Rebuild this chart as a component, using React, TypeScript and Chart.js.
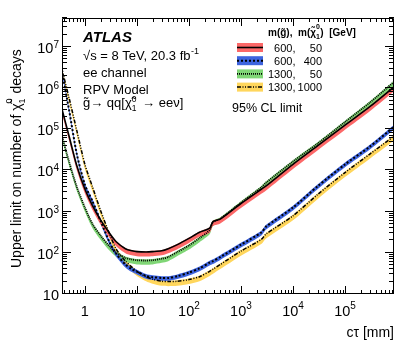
import React, { useEffect, useRef } from "react";
import { Chart, registerables } from "chart.js";

Chart.register(...registerables);

// c-tau values [mm]
const ctau = [0.36, 0.5, 0.7, 1, 1.4, 2, 3, 4, 6, 8, 10, 15, 20, 30, 40, 60, 100, 160, 250, 290, 400, 1000, 2500, 3000, 1e4, 3e4, 1e5, 3e5, 8.7e5];

// Upper limits on number of neutralino decays
const limitG600N50 = [3.2e5, 6.6e4, 1.3e4, 3550, 1410, 630, 295, 186, 126, 112, 107, 105, 107, 112, 126, 158, 224, 316, 398, 575, 660, 1580, 3550, 4170, 1.41e4, 4.0e4, 1.26e5, 3.55e5, 1.07e6];
const limitG600N400 = [2.75e6, 2.8e5, 2.5e4, 4500, 1800, 600, 178, 95, 52, 40, 35, 27.5, 25.7, 24.5, 24.5, 27, 33, 42, 58, 63, 79, 158, 316, 427, 1260, 4170, 1.41e4, 3.8e4, 1.15e5];
const limitG1300N50 = [7.2e4, 1.6e4, 4000, 1260, 500, 263, 141, 100, 76, 69, 66, 65, 66, 72, 79, 105, 151, 229, 355, 562, 676, 1660, 3980, 5010, 1.66e4, 4.57e4, 1.51e5, 4.47e5, 1.41e6];
const limitG1300N1000 = [3.0e6, 5.6e5, 9.3e4, 1.41e4, 4000, 1070, 282, 123, 63, 45, 35.5, 26.3, 22.9, 20.4, 20, 20.4, 22.4, 26.3, 35.5, 40, 52, 110, 214, 282, 794, 2630, 8910, 2.5e4, 6.8e4];

const yTickExponents = [1, 2, 3, 4, 5, 6, 7];
const xTickExponents = [0, 1, 2, 3, 4, 5];
const legendGluino = ["600,", "600,", "1300,", "1300,"];
const legendNeutralino = ["50", "400", "50", "1000"];

const X_MIN = 0.363;
const X_MAX = 8.75e5;
const Y_MIN = 10;
const Y_MAX = 5.06e7;

const FONT = '"Liberation Sans", Arial, Helvetica, sans-serif';

const seriesStyles = [
  { data: limitG600N50, band: "rgb(252,104,104)", up: 0.02, down: 0.11, dash: [] as number[], lw: 1.6 },
  { data: limitG600N400, band: "rgb(62,100,222)", up: 0.045, down: 0.07, dash: [2, 2], lw: 2 },
  { data: limitG1300N50, band: "rgb(128,214,118)", up: 0.03, down: 0.1, dash: [1, 1], lw: 1.8 },
  { data: limitG1300N1000, band: "rgb(255,214,92)", up: 0.025, down: 0.11, dash: [4, 1.5, 1, 1.5, 1, 1.5], lw: 1.5 },
];

function points(values: number[], factor: number) {
  return ctau.map((x, i) => ({ x, y: values[i] * factor }));
}

function drawPow(ctx: CanvasRenderingContext2D, exp: string, x: number, y: number, align: "right" | "center", baseSize: number, expSize: number, expRaise: number) {
  ctx.font = `${baseSize}px ${FONT}`;
  const wb = ctx.measureText("10").width;
  ctx.font = `${expSize}px ${FONT}`;
  const we = exp ? ctx.measureText(exp).width : 0;
  const total = wb + we;
  const start = align === "right" ? x - total : x - total / 2;
  ctx.textAlign = "left";
  ctx.font = `${baseSize}px ${FONT}`;
  ctx.fillText("10", start, y);
  if (exp) {
    ctx.font = `${expSize}px ${FONT}`;
    ctx.fillText(exp, start + wb, y - expRaise);
  }
}

const decorPlugin = {
  id: "atlasDecor",
  afterDatasetsDraw(chart: any) {
    const ctx: CanvasRenderingContext2D = chart.ctx;
    const { left, right, top, bottom } = chart.chartArea;
    const xs = chart.scales.x;
    const ys = chart.scales.y;
    ctx.save();
    ctx.strokeStyle = "#000";
    ctx.fillStyle = "#000";
    ctx.lineWidth = 1;
    ctx.setLineDash([]);
    ctx.beginPath();
    ctx.rect(Math.round(left) + 0.5, Math.round(top) + 0.5, Math.round(right - left) - 1, Math.round(bottom - top) - 1);
    ctx.stroke();

    ctx.beginPath();
    for (let e = 1; e <= 7; e++) {
      for (let m = 1; m <= 9; m++) {
        const v = m * Math.pow(10, e);
        if (v > ys.max) break;
        const py = Math.round(ys.getPixelForValue(v)) - 0.5;
        const len = m === 1 ? 9 : 5;
        ctx.moveTo(left, py);
        ctx.lineTo(left + len, py);
        ctx.moveTo(right, py);
        ctx.lineTo(right - len, py);
      }
    }
    for (let e = -1; e <= 5; e++) {
      for (let m = 1; m <= 9; m++) {
        const v = m * Math.pow(10, e);
        if (v < xs.min || v > xs.max) continue;
        const px = Math.round(xs.getPixelForValue(v)) + 0.5;
        const len = m === 1 ? 8 : 4;
        ctx.moveTo(px, bottom);
        ctx.lineTo(px, bottom - len);
        ctx.moveTo(px, top);
        ctx.lineTo(px, top + len);
      }
    }
    ctx.stroke();

    // y tick labels
    ctx.textBaseline = "alphabetic";
    yTickExponents.forEach((e) => {
      const py = ys.getPixelForValue(Math.pow(10, e));
      drawPow(ctx, e === 1 ? "" : String(e), 59, py + 6, "right", 14.5, 10, 5);
    });
    // x tick labels
    xTickExponents.forEach((e) => {
      const px = xs.getPixelForValue(Math.pow(10, e));
      if (e === 0) {
        ctx.font = `14.5px ${FONT}`;
        ctx.textAlign = "center";
        ctx.fillText("1", px, 316);
      } else {
        drawPow(ctx, e === 1 ? "" : String(e), px, 316, "center", 14.5, 10, 7);
      }
    });

    // x title
    ctx.font = `14px ${FONT}`;
    ctx.textAlign = "right";
    ctx.fillText("c\u03c4 [mm]", right, 337);

    // y title
    ctx.save();
    ctx.translate(21, 268);
    ctx.rotate(-Math.PI / 2);
    ctx.textAlign = "left";
    ctx.font = `14px ${FONT}`;
    let tx = 0;
    const t1 = "Upper limit on number of ";
    ctx.fillText(t1, tx, 0);
    tx += ctx.measureText(t1).width;
    ctx.fillText("\u03c7\u0303", tx, 0);
    tx += ctx.measureText("\u03c7").width;
    ctx.font = `9px ${FONT}`;
    ctx.fillText("1", tx, 3.5);
    ctx.fillText("0", tx, -9);
    tx += ctx.measureText("0").width + 1;
    ctx.font = `14px ${FONT}`;
    ctx.fillText(" decays", tx, 0);
    ctx.restore();

    // annotation texts
    ctx.textAlign = "left";
    ctx.font = `italic bold 15px ${FONT}`;
    ctx.fillText("ATLAS", 83, 42);
    ctx.font = `13px ${FONT}`;
    const s1 = "\u221as = 8 TeV, 20.3 fb";
    ctx.fillText(s1, 83, 60);
    const ws1 = ctx.measureText(s1).width;
    ctx.font = `9px ${FONT}`;
    ctx.fillText("-1", 83 + ws1 + 0.5, 54);
    ctx.font = `13px ${FONT}`;
    ctx.fillText("ee channel", 83, 77);
    ctx.fillText("RPV Model", 83, 94);
    let gx = 83;
    const p1 = "g\u0303\u2192 qq[";
    ctx.fillText(p1, gx, 107);
    gx += ctx.measureText(p1).width;
    ctx.fillText("\u03c7\u0303", gx, 107);
    gx += ctx.measureText("\u03c7").width;
    ctx.font = `8.5px ${FONT}`;
    ctx.fillText("1", gx, 110.5);
    ctx.fillText("0", gx, 101.5);
    gx += ctx.measureText("0").width + 2;
    ctx.font = `13px ${FONT}`;
    ctx.fillText(" \u2192 ee\u03bd]", gx, 107);

    ctx.font = `12.5px ${FONT}`;
    ctx.fillText("95% CL limit", 232, 112);

    // legend header
    ctx.font = `bold 10px ${FONT}`;
    let hx = 268;
    const h1 = "m(g\u0303),  m(\u03c7\u0303";
    ctx.fillText(h1, hx, 36);
    hx += ctx.measureText(h1).width;
    ctx.font = `bold 7px ${FONT}`;
    ctx.fillText("1", hx, 38.5);
    ctx.fillText("0", hx, 29);
    hx += ctx.measureText("0").width + 0.5;
    ctx.font = `bold 10px ${FONT}`;
    ctx.fillText(")  [GeV]", hx, 36);

    // legend rows
    const rowY = [47.5, 60.7, 73.9, 87.1];
    seriesStyles.forEach((s, i) => {
      const cy = rowY[i];
      ctx.fillStyle = s.band;
      ctx.fillRect(237, cy - 4.5, 26, 9);
      ctx.strokeStyle = "#000";
      ctx.lineWidth = s.lw;
      ctx.setLineDash(s.dash);
      ctx.beginPath();
      ctx.moveTo(237, cy);
      ctx.lineTo(263, cy);
      ctx.stroke();
      ctx.setLineDash([]);
      ctx.fillStyle = "#000";
      ctx.font = `11px ${FONT}`;
      ctx.textAlign = "right";
      ctx.fillText(legendGluino[i], 295.5, cy + 4);
      ctx.fillText(legendNeutralino[i], 322, cy + 4);
    });
    ctx.restore();
  },
};

export default function App() {
  const canvasRef = useRef<HTMLCanvasElement | null>(null);

  useEffect(() => {
    if (!canvasRef.current) return;
    const datasets: any[] = [];
    seriesStyles.forEach((s) => {
      datasets.push({
        data: points(s.data, Math.pow(10, s.up)),
        fill: "+1",
        backgroundColor: s.band,
        borderWidth: 0,
        pointRadius: 0,
        tension: 0.25,
        order: 1,
      });
      datasets.push({
        data: points(s.data, Math.pow(10, -s.down)),
        fill: false,
        borderWidth: 0,
        borderColor: "rgba(0,0,0,0)",
        pointRadius: 0,
        tension: 0.25,
        order: 1,
      });
    });
    seriesStyles.forEach((s) => {
      datasets.push({
        data: points(s.data, 1),
        fill: false,
        borderColor: "#000",
        borderWidth: s.lw,
        borderDash: s.dash,
        pointRadius: 0,
        tension: 0.25,
        order: 0,
      });
    });

    const chart = new Chart(canvasRef.current, {
      type: "line",
      data: { datasets },
      options: {
        responsive: false,
        animation: false,
        devicePixelRatio: 1,
        parsing: false as any,
        layout: { padding: { left: 62, right: 21, top: 18, bottom: 57 } },
        plugins: { legend: { display: false }, tooltip: { enabled: false } },
        events: [],
        scales: {
          x: { type: "logarithmic", min: X_MIN, max: X_MAX, display: false },
          y: { type: "logarithmic", min: Y_MIN, max: Y_MAX, display: false },
        },
      },
      plugins: [decorPlugin],
    });
    return () => chart.destroy();
  }, []);

  return (
    <div style={{ position: "fixed", left: 0, top: 0, width: 415, height: 351, background: "#fff" }}>
      <canvas ref={canvasRef} width={415} height={351} style={{ display: "block" }} />
    </div>
  );
}
